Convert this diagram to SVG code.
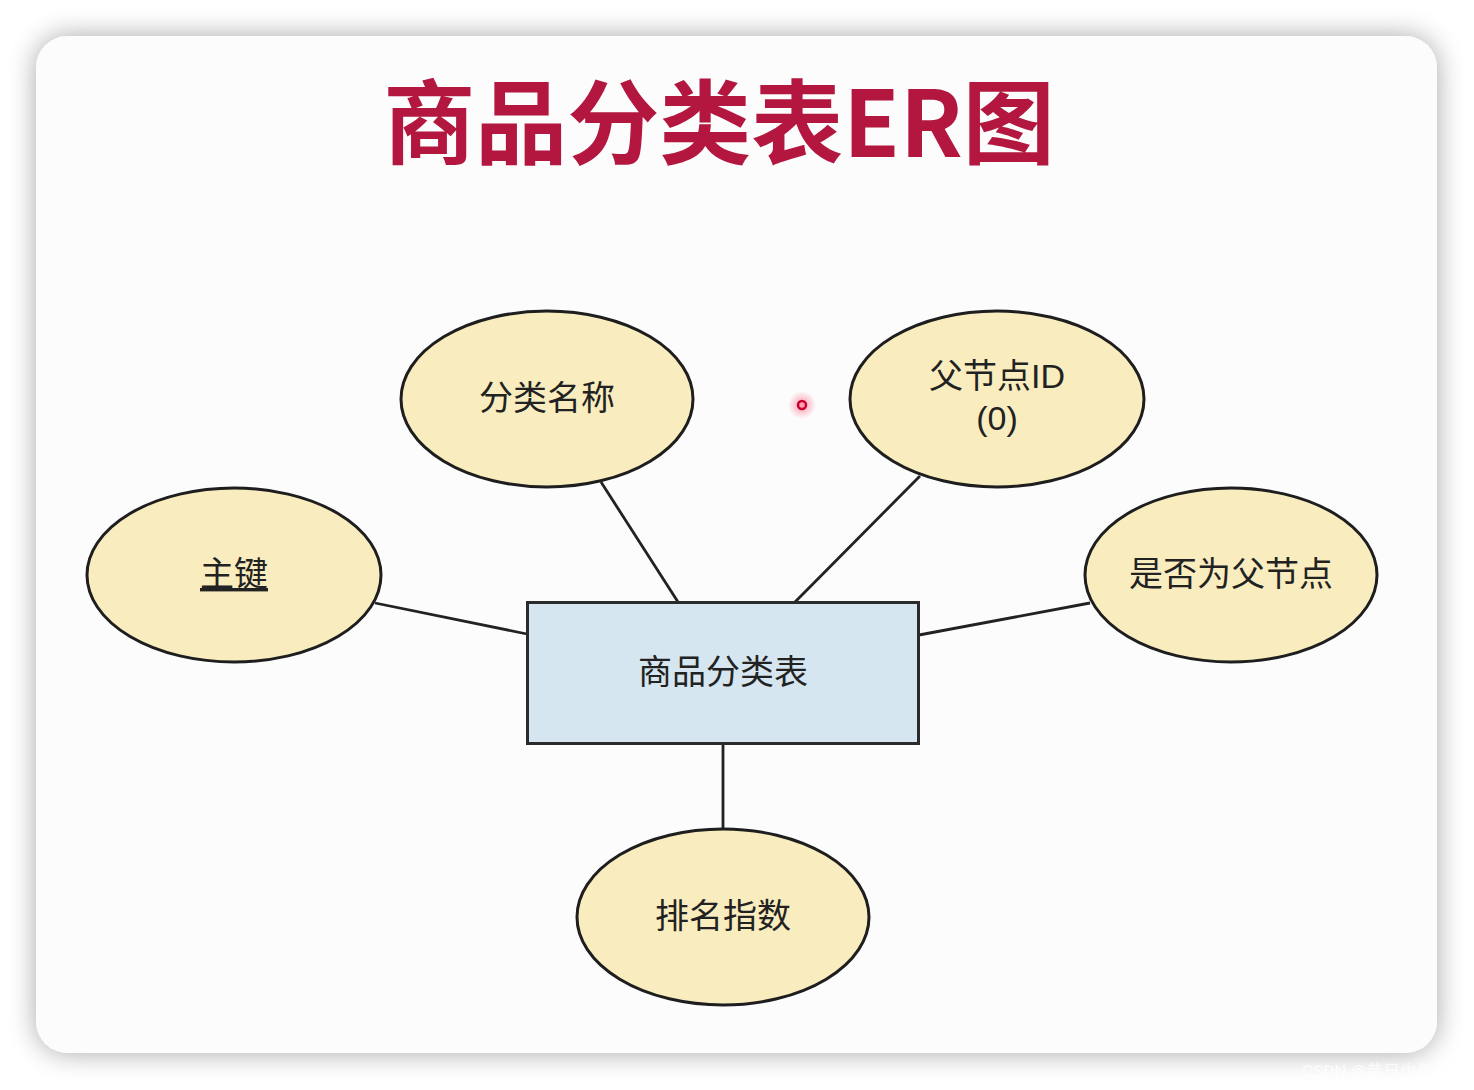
<svg xmlns="http://www.w3.org/2000/svg" width="1474" height="1090" viewBox="0 0 1474 1090">
  <defs>
    <filter id="shadow" x="-10%" y="-10%" width="120%" height="120%">
      <feGaussianBlur in="SourceAlpha" stdDeviation="14"/>
      <feComponentTransfer><feFuncA type="linear" slope="0.35"/></feComponentTransfer>
      <feMerge><feMergeNode/><feMergeNode in="SourceGraphic"/></feMerge>
    </filter>
    <radialGradient id="dotglow">
      <stop offset="0" stop-color="#ff6a8a" stop-opacity="0.7"/>
      <stop offset="1" stop-color="#ff6a8a" stop-opacity="0"/>
    </radialGradient>
  </defs>
  <style>
    .attr { fill: #f9edbf; stroke: #1e1e1e; stroke-width: 3; }
    .entity { fill: #d6e6f0; stroke: #2b2b2b; stroke-width: 3; }
    .lbl { font-family: "Noto Sans CJK SC", "Noto Sans", sans-serif; font-size: 34px; fill: #222; text-anchor: middle; }
    .lbl2 { font-family: "Liberation Sans", "Noto Sans CJK SC", sans-serif; font-size: 34px; fill: #222; text-anchor: middle; }
    .edge { stroke: #222; stroke-width: 2.8; fill: none; }
    .title { font-family: "Noto Sans CJK SC", "Noto Sans", sans-serif; font-weight: 700; font-size: 92px; fill: #b3173f; }
  </style>
  <rect width="1474" height="1090" fill="#ffffff"/>
  <rect x="36" y="36" width="1401" height="1017" rx="32" fill="#fbfcfb" filter="url(#shadow)"/>
  <text class="title" x="719" y="157" text-anchor="middle">商品分类表ER图</text>

  <g id="connectors">
    <line class="edge" x1="601" y1="482" x2="678" y2="602"/>
    <line class="edge" x1="920" y1="476" x2="795" y2="602"/>
    <line class="edge" x1="375" y1="603" x2="527" y2="634"/>
    <line class="edge" x1="1090" y1="603" x2="919" y2="635"/>
    <line class="edge" x1="723" y1="744" x2="723" y2="829"/>
  </g>

  <g id="entity">
    <rect class="entity" x="527.5" y="602.5" width="391" height="141"/>
    <text class="lbl" x="723" y="684">商品分类表</text>
  </g>
  <g id="attr-name">
    <ellipse class="attr" cx="547" cy="399" rx="146" ry="88"/>
    <text class="lbl" x="547" y="410">分类名称</text>
  </g>
  <g id="attr-parent-id">
    <ellipse class="attr" cx="997" cy="399" rx="147" ry="88"/>
    <text class="lbl2" x="997" y="388">父节点ID</text>
    <text class="lbl2" x="997" y="430">(0)</text>
  </g>
  <g id="attr-pk">
    <ellipse class="attr" cx="234" cy="575" rx="147" ry="87"/>
    <text class="lbl" x="234" y="586" text-decoration="underline">主键</text>
  </g>
  <g id="attr-is-parent">
    <ellipse class="attr" cx="1231" cy="575" rx="146" ry="87"/>
    <text class="lbl" x="1231" y="586">是否为父节点</text>
  </g>
  <g id="attr-rank">
    <ellipse class="attr" cx="723" cy="917" rx="146" ry="88"/>
    <text class="lbl" x="723" y="928">排名指数</text>
  </g>

  <circle cx="802" cy="405" r="14" fill="url(#dotglow)"/>
  <circle cx="802" cy="405" r="4" fill="none" stroke="#c8002c" stroke-width="2.5"/>
  <text x="1302" y="1077" font-family="Roboto, 'Noto Sans CJK SC', sans-serif" font-size="17" fill="#ffffff" fill-opacity="0.8">CSDN @昔日少年</text>
</svg>
